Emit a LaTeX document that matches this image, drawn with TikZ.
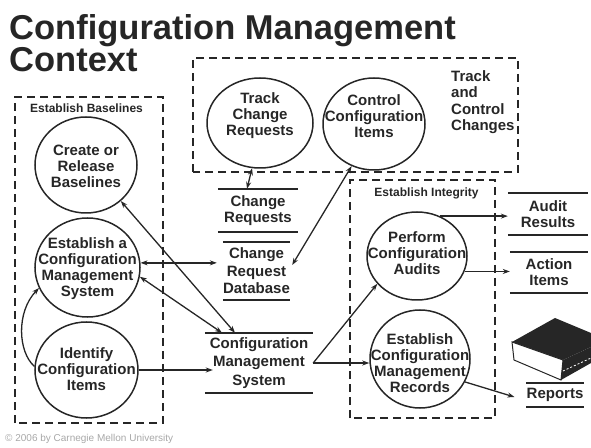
\documentclass[tikz,border=0pt]{standalone}
\usepackage{fontspec}
\setmainfont{Liberation Sans}
\usetikzlibrary{shapes.geometric,arrows.meta,calc}
\definecolor{ink}{HTML}{262626}
\definecolor{faint}{HTML}{A8A8A8}
\tikzset{
  title/.style={text=ink, font=\fontsize{34.5}{36}\selectfont\bfseries, inner sep=0pt},
  proc/.style 2 args={ellipse, draw=ink, line width=1.5pt, minimum width=#1, minimum height=#2, inner sep=0pt},
  ptext/.style={text=ink, font=\fontsize{15}{16}\selectfont\bfseries, align=center, inner sep=0pt},
  store/.style 2 args={text=ink, font=\fontsize{15}{17}\selectfont\bfseries, align=center, inner sep=0pt, minimum width=#1, minimum height=#2},
  storeline/.style={draw=ink, line width=2pt},
  frame/.style={draw=ink, line width=2pt, dash pattern=on 8pt off 5pt},
  grouplabel/.style={text=ink, font=\fontsize{12}{14}\selectfont\bfseries, inner sep=0pt},
  flow/.style={draw=ink, line width=1.3pt},
}
\begin{document}
\begin{tikzpicture}[x=1pt, y=1pt, >={Stealth[length=7pt,width=5pt]}]
\useasboundingbox (0,0) rectangle (591,447);

% heading
\node[title, anchor=base west] (t1) at (9,407) {Configuration Management};
\node[title, anchor=base west] (t2) at (9,375) {Context};

% process groups
\draw[frame] (15,24) rectangle (163,350);
\draw[frame] (193,275) rectangle (518,389);
\draw[frame] (350,29) rectangle (495,267);
\node[grouplabel] (gb) at (86.5,339) {Establish Baselines};
\node[grouplabel] (gi) at (426.5,254) {Establish Integrity};
\node[ptext, align=left, anchor=west, font=\fontsize{15}{16.5}\selectfont\bfseries] (gc) at (451,345) {Track\\and\\Control\\Changes};

% processes
\node[proc={102pt}{96pt}] (crb) at (86,282) {};
\node[ptext] (crb-t) at (86,281) {Create or\\Release\\Baselines};
\node[proc={105pt}{99pt}] (ecms) at (87.5,179.5) {};
\node[ptext] (ecms-t) at (87.5,178) {Establish a\\Configuration\\Management\\System};
\node[proc={103pt}{96pt}] (ici) at (86.5,77) {};
\node[ptext] (ici-t) at (86.5,78) {Identify\\Configuration\\Items};
\node[proc={106pt}{90pt}] (tcr) at (260,324) {};
\node[ptext] (tcr-t) at (260,331) {Track\\Change\\Requests};
\node[proc={102pt}{92pt}] (cci) at (374,323) {};
\node[ptext] (cci-t) at (374,331) {Control\\Configuration\\Items};
\node[proc={100pt}{88pt}] (pca) at (417,191) {};
\node[ptext] (pca-t) at (417,194) {Perform\\Configuration\\Audits};
\node[proc={100pt}{98pt}] (ecmr) at (420,88) {};
\node[ptext] (ecmr-t) at (420,84) {Establish\\Configuration\\Management\\Records};

% data stores
\node[store={80pt}{43pt}, font=\fontsize{15}{16}\selectfont\bfseries] (cr) at (258,236.5) {Change\\Requests};
\node[store={67pt}{58pt}, font=\fontsize{15}{17.5}\selectfont\bfseries] (crdb) at (256.5,176) {Change\\Request\\Database};
\node[store={108pt}{60pt}, font=\fontsize{15}{18.5}\selectfont\bfseries] (cms) at (259,84) {Configuration\\Management\\System};
\node[store={80pt}{42pt}, font=\fontsize{15}{15.5}\selectfont\bfseries] (ar) at (548,233) {Audit\\Results};
\node[store={78pt}{41pt}, font=\fontsize{15}{16}\selectfont\bfseries] (ai) at (549,174.5) {Action\\Items};
\node[store={56pt}{24pt}] (rep) at (555,52) {Reports};
\foreach \s in {cr,crdb,cms,ar,ai,rep}
  \draw[storeline] (\s.north west) -- (\s.north east) (\s.south west) -- (\s.south east);

% report book
\fill[ink] (512,105) -- (555,129) -- (591,114) -- (591,100) -- (563,87) -- cycle;
\filldraw[fill=white, draw=ink, line width=1pt] (512,105) -- (563,87) -- (561,67) -- (514,87) -- cycle;
\fill[ink] (563,87) -- (591,100) -- (591,84) -- (561,67) -- cycle;
\draw[white, line width=0.8pt, dash pattern=on 2pt off 2pt] (563,76) -- (591,89);

% flows
\draw[flow,<->] (tcr.-100) -- ($(cr.north)+(-11,0)$);
\draw[flow,<->] (cci.-118) -- ($(crdb.east)+(2,6)$);
\draw[flow,<->] (ecms.5) -- ($(ecms.5 -| crdb.west)+(-6,0)$);
\draw[flow,<->] (crb.-46) -- ($(cms.north)+(-24,0)$);
\draw[flow,<->] (ecms.-10) -- ($(cms.north)+(-37,0)$);
\draw[flow,->] (ici.176) .. controls (18,95) and (16,135) .. (ecms.203);
\draw[flow,->] (ici.east) -- ($(ici.east -| cms.west)+(8,0)$);
\draw[flow,->] (cms.east) -- (pca.215);
\draw[flow,->] (cms.east) -- (cms.east -| ecmr.west);
\draw[flow,->] (pca.60) -- (pca.60 -| ar.west);
\draw[flow,->] (pca.-18) -- (pca.-18 -| ai.west);
\draw[flow,->] (ecmr.-27) -- ($(rep.west)+(-12,-2)$);

% footer
\node[font=\fontsize{10}{12}\selectfont, text=faint, anchor=base west, inner sep=0pt] (copy) at (5,6) {\textcopyright{} 2006 by Carnegie Mellon University};
\end{tikzpicture}
\end{document}
